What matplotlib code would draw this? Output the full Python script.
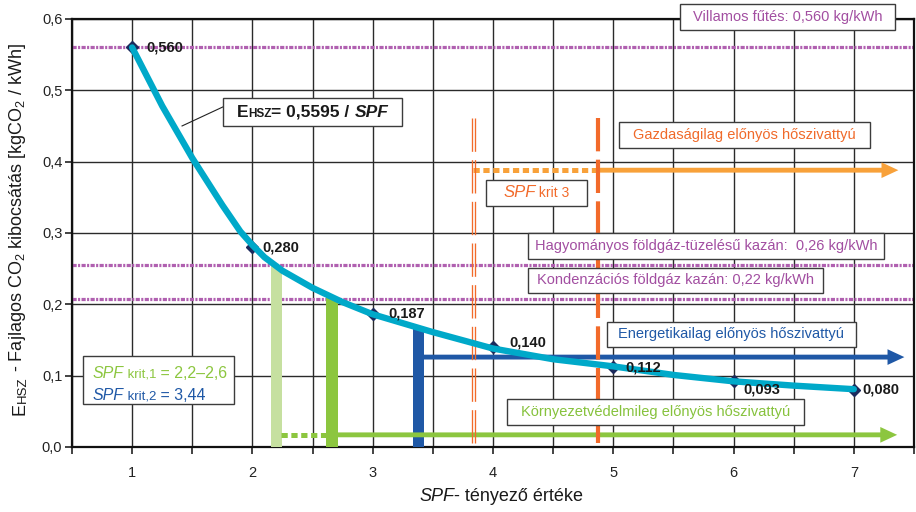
import matplotlib
matplotlib.use('Agg')
import matplotlib.pyplot as plt
from matplotlib.patches import Rectangle
from matplotlib.transforms import Bbox
from matplotlib.ticker import MultipleLocator, FuncFormatter

plt.rcParams['font.family'] = ['Liberation Sans', 'DejaVu Sans']
plt.rcParams['mathtext.fontset'] = 'custom'
plt.rcParams['mathtext.rm'] = 'Liberation Sans'
plt.rcParams['mathtext.it'] = 'Liberation Sans:italic'
plt.rcParams['lines.scale_dashes'] = False

# pontok (SPF, E_HSZ)
spf_pts = [1, 2, 3, 4, 5, 6, 7]
e_pts = [0.560, 0.280, 0.187, 0.140, 0.112, 0.093, 0.080]
e_labels = ['0,560', '0,280', '0,187', '0,140', '0,112', '0,093', '0,080']

# a kisimitott gorbe, a kepről leolvasva
curve_x = [1.0, 1.25, 1.5, 1.75, 1.9, 2.0, 2.1, 2.25, 2.5, 2.75, 3.0, 3.5,
           4.0, 4.5, 5.0, 5.5, 6.0, 6.5, 7.0]
curve_y = [0.560, 0.478, 0.405, 0.339, 0.302, 0.283, 0.266, 0.247, 0.223, 0.203,
           0.186, 0.161, 0.138, 0.123, 0.113, 0.101, 0.092, 0.086, 0.081]

# referencia szintek (villamos, hagyomanyos, kondenzacios)
ref_levels = [0.560, 0.255, 0.208]
ref_texts = ['Villamos fűtés: 0,560 kg/kWh',
             'Hagyományos földgáz-tüzelésű kazán:  0,26 kg/kWh',
             'Kondenzációs földgáz kazán: 0,22 kg/kWh']

# kritikus SPF oszlopok
crit_x = [2.2, 2.66, 3.38]
crit_top = [0.254, 0.210, 0.168]

# nyilak: szint, pontozott kezdet, folytonos kezdet, veg
arrow_y = [0.017, 0.126, 0.388]
arrow_dot_start = [2.24, None, 3.835]
arrow_start = [2.66, 3.38, 4.87]
arrow_end = [7.36, 7.42, 7.37]
arrow_texts = ['Környezetvédelmileg előnyös hőszivattyú',
               'Energetikailag előnyös hőszivattyú',
               'Gazdaságilag előnyös hőszivattyú']

# SPF krit 3 hatarok
krit3_x = [3.835, 4.87]
krit3_top = 0.461

purple = '#b060b0'
purple_txt = '#a24ea1'
green = '#8cc63f'
lgreen = '#c6e0a0'
blue = '#1f58a6'
orange = '#f26a2a'
lorange = '#f8a13a'
cyan = '#00a9c9'
navy = '#1c2a5c'

fig = plt.figure(figsize=(9.16, 5.12), dpi=100)
ax = fig.add_axes([0.0786, 0.127, 0.9192, 0.836])
ax.set_xlim(0.5, 7.5)
ax.set_ylim(0, 0.6)
ax.xaxis.set_major_locator(MultipleLocator(0.5))
ax.yaxis.set_major_locator(MultipleLocator(0.1))
ax.xaxis.set_major_formatter(FuncFormatter(lambda v, p: f'{v:.0f}' if abs(v - round(v)) < 1e-6 else ''))
ax.yaxis.set_major_formatter(FuncFormatter(lambda v, p: f'{v:.1f}'.replace('.', ',')))
ax.tick_params(axis='both', direction='out', length=5, width=1.2, labelsize=10.5,
               colors='#222222')
ax.tick_params(axis='x', pad=9)
ax.tick_params(axis='y', pad=2)
ax.grid(True, color='#2a2a2a', lw=1.0)
ax.set_axisbelow(True)
for s in ax.spines.values():
    s.set_linewidth(1.6)
    s.set_color('#111111')

for lv in ref_levels:
    ax.axhline(lv, color=purple, lw=2.3, dashes=(3, 1, 1.5, 1), zorder=2)

# kritikus oszlopok
ax.bar(crit_x, crit_top, width=[0.085, 0.1, 0.085], color=[lgreen, green, blue], zorder=3)

# nyilak
arrow_cols = [green, blue, lorange]
for y, xd, xs, xe, c in zip(arrow_y, arrow_dot_start, arrow_start, arrow_end, arrow_cols):
    if xd is not None:
        ax.plot([xd, xs], [y, y], color=c, lw=3.6, dashes=(4.5, 2.6), solid_capstyle='butt',
                dash_capstyle='butt', zorder=3)
    ax.arrow(xs, y, xe - xs, 0, width=0.0068, head_width=0.022, head_length=0.14,
             length_includes_head=True, color=c, lw=0, zorder=3)

# SPF krit 3 fuggoleges vonalak
for dx in (-0.0125, 0.0125):
    ax.plot([krit3_x[0] + dx] * 2, [krit3_top, 0], color=orange, lw=0.95, dashes=(24, 6), zorder=3)
ax.plot([krit3_x[1]] * 2, [krit3_top, 0], color=orange, lw=3.0, dashes=(24, 6), zorder=3)

# gorbe es pontok
ax.plot(spf_pts, e_pts, ls='none', marker='D', ms=6, color=navy, zorder=3.5)
ax.plot(curve_x, curve_y, color=cyan, lw=4.6, solid_joinstyle='round', solid_capstyle='round',
        zorder=4)
lab_off = [(10, 0), (7.5, 0), (11, 0), (11.5, 3), (8.5, 0), (7, -6.5), (6.5, 0)]
for x, y, t, o in zip(spf_pts, e_pts, e_labels, lab_off):
    ax.annotate(t, (x, y), xytext=o, textcoords='offset points', ha='left', va='center',
                fontsize=10.5, fontweight='bold', color='#1a1a1a', zorder=6)

groups = []


def rich(x, y, parts, trans, rot=0, z=9):
    ha = 'left' if rot == 0 else 'right'
    xy = (1, 0) if rot == 0 else (1, 1)
    t0 = ax.text(x, y, parts[0][0], transform=trans, rotation=rot, ha=ha, va='bottom',
                 zorder=z, **parts[0][1])
    arts = [t0]
    for s, kw in parts[1:]:
        a = ax.annotate(s, xy=xy, xycoords=arts[-1], rotation=rot, ha=ha, va='bottom',
                        zorder=z, annotation_clip=False, **kw)
        arts.append(a)
    return arts


def boxed(rect, parts):
    x0, y0, x1, y1 = rect
    ax.add_patch(Rectangle((x0, y0), x1 - x0, y1 - y0, fc='white', ec='#3c3c3c', lw=1.0,
                           zorder=8, clip_on=False))
    arts = rich(x0, y0, parts, ax.transData)
    groups.append((arts, ax.transData, ((x0 + x1) / 2, (y0 + y1) / 2)))


def P(c, size=10.5, **kw):
    d = dict(color=c, fontsize=size)
    d.update(kw)
    return d


ref_boxes = [(5.554, 0.585, 7.341, 0.621), (4.29, 0.2636, 7.25, 0.300), (4.29, 0.216, 6.743, 0.251)]
for r, t in zip(ref_boxes, ref_texts):
    boxed(r, [(t, P(purple_txt))])

arrow_boxes = [(4.116, 0.0308, 6.585, 0.0673), (4.947, 0.1402, 7.017, 0.1752),
               (5.047, 0.4192, 7.133, 0.4556)]
arrow_txt_cols = ['#86c23c', '#1f58a6', '#f06a2a']
for r, t, c in zip(arrow_boxes, arrow_texts, arrow_txt_cols):
    boxed(r, [(t, P(c))])

boxed((3.941, 0.3379, 4.781, 0.3743),
      [('SPF', P(orange, 12, style='italic')), (' krit 3', P(orange, 10))])

boxed((1.755, 0.450, 3.243, 0.489),
      [('E', P('#1a1a1a', 12.5, fontweight='bold')), ('HSZ', P('#1a1a1a', 8.5, fontweight='bold')),
       ('= 0,5595 / ', P('#1a1a1a', 12.5, fontweight='bold')),
       ('SPF', P('#1a1a1a', 12.5, fontweight='bold', style='italic'))])
ax.plot([1.755, 1.415], [0.4767, 0.450], color='#222222', lw=0.8, zorder=5)

# jelmagyarazat doboz
ax.add_patch(Rectangle((0.591, 0.0603), 1.847 - 0.591, 0.1276 - 0.0603, fc='white',
                       ec='#3c3c3c', lw=1.0, zorder=8))
rich(0.672, 0.093, [('SPF', P(green, 11.5, style='italic')), (' krit,1', P(green, 9.5)),
                    (' = 2,2\u20132,6', P(green, 11.5))], ax.transData)
rich(0.672, 0.062, [('SPF', P(blue, 11.5, style='italic')), (' krit,2', P(blue, 9.5)),
                    (' = 3,44', P(blue, 11.5))], ax.transData)

# tengelyfeliratok
xl = rich(0.44, 0.014, [('SPF', P('#1a1a1a', 13, style='italic')),
                        ('- tényező értéke', P('#1a1a1a', 13))], fig.transFigure)
groups.append((xl, fig.transFigure, (0.547, None)))
yl = rich(0.031, 0.1, [('E', P('#1a1a1a', 13)), ('HSZ', P('#1a1a1a', 9.5)),
                       (' - Fajlagos CO$_2$ kibocsátás [kgCO$_2$ / kWh]', P('#1a1a1a', 13))],
          fig.transFigure, rot=90)
groups.append((yl, fig.transFigure, (None, 0.553)))

fig.canvas.draw()
r = fig.canvas.get_renderer()
for arts, trans, (cx, cy) in groups:
    u = Bbox.union([a.get_window_extent(r) for a in arts])
    tx, ty = trans.transform((cx if cx is not None else 0, cy if cy is not None else 0))
    dx = tx - (u.x0 + u.x1) / 2 if cx is not None else 0
    dy = ty - (u.y0 + u.y1) / 2 if cy is not None else 0
    p = trans.transform(arts[0].get_position())
    arts[0].set_position(trans.inverted().transform((p[0] + dx, p[1] + dy)))

fig.savefig('out.png', dpi=100)
